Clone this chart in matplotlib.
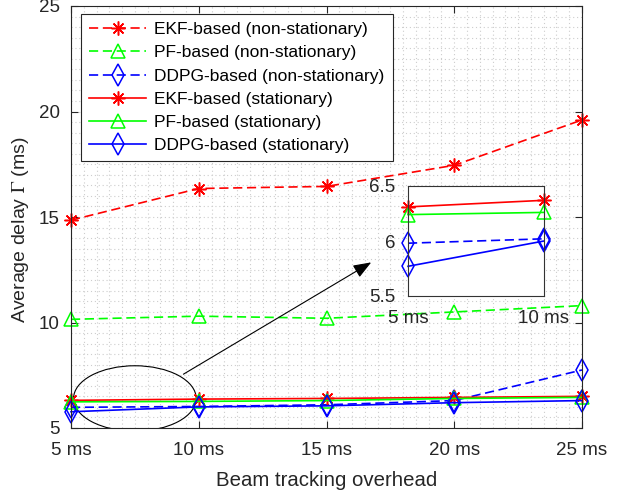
import numpy as np
import matplotlib
matplotlib.use("Agg")
import matplotlib.pyplot as plt
from matplotlib.patches import Ellipse
from matplotlib.ticker import MultipleLocator

plt.rcParams['font.family'] = ['Liberation Sans', 'DejaVu Sans']
plt.rcParams['mathtext.fontset'] = 'stix'

# data
overhead = [5, 10, 15, 20, 25]
xtick_labels = ["5 ms", "10 ms", "15 ms", "20 ms", "25 ms"]

ekf_ns = [14.85, 16.35, 16.45, 17.45, 19.6]
pf_ns = [10.15, 10.3, 10.2, 10.5, 10.8]
ddpg_ns = [5.98, 6.02, 6.1, 6.3, 7.75]
ekf_s = [6.31, 6.37, 6.4, 6.45, 6.5]
pf_s = [6.24, 6.26, 6.3, 6.4, 6.45]
ddpg_s = [5.77, 6.0, 6.05, 6.2, 6.3]

labels = ["EKF-based (non-stationary)", "PF-based (non-stationary)",
          "DDPG-based (non-stationary)", "EKF-based (stationary)",
          "PF-based (stationary)", "DDPG-based (stationary)"]

RED, GREEN, BLUE = (1, 0, 0), (0, 1, 0), (0, 0, 1)
TXT = '#262626'
FS = 13.5
LW = 1.2
DASH = (5.5, 2.8)
ASTER = (8, 2, 0)

series = [
    (ekf_ns, RED, ASTER, 10, True),
    (pf_ns, GREEN, '^', 10, True),
    (ddpg_ns, BLUE, 'd', 11, True),
    (ekf_s, RED, ASTER, 10, False),
    (pf_s, GREEN, '^', 10, False),
    (ddpg_s, BLUE, 'd', 11, False),
]


def draw(ax, xs, n=None):
    for (ys, c, m, ms, dashed), lab in zip(series, labels):
        ys = ys[:n] if n else ys
        ln, = ax.plot(xs, ys, color=c, marker=m, markersize=ms, lw=LW,
                      markerfacecolor='none', markeredgecolor=c,
                      markeredgewidth=1.1, label=lab, clip_on=False)
        if dashed:
            ln.set_dashes(DASH)


fig = plt.figure(figsize=(6.3, 4.93), dpi=100)
ax = fig.add_axes([71/630, 1 - 428/493, 511/630, 422/493])

draw(ax, overhead)

ax.set_xlim(5, 25)
ax.set_ylim(5, 25)
ax.set_xticks(overhead)
ax.set_xticklabels(xtick_labels)
ax.set_yticks([5, 10, 15, 20, 25])
ax.xaxis.set_minor_locator(MultipleLocator(0.5))
ax.yaxis.set_minor_locator(MultipleLocator(0.5))
ax.grid(True, which='both', linestyle=(0, (1, 2.5)), color='#cdcdcd', lw=0.8)
ax.set_axisbelow(True)
ax.tick_params(which='major', direction='in', length=5, width=0.8,
               top=True, right=True, labelsize=FS, colors=TXT)
ax.tick_params(axis='x', pad=10)
ax.tick_params(axis='y', pad=8)
ax.tick_params(which='minor', length=0)
for s in ax.spines.values():
    s.set_color(TXT)
    s.set_linewidth(0.8)

ax.set_xlabel("Beam tracking overhead", fontsize=14.7, color=TXT, labelpad=9)
ax.set_ylabel(r"Average delay $\Gamma$ (ms)", fontsize=14, color=TXT)
ax.yaxis.set_label_coords(-0.078, 0.47)

leg = ax.legend(loc='upper left', bbox_to_anchor=(81/630, 1 - 14/493),
                bbox_transform=fig.transFigure, borderaxespad=0,
                fontsize=12.5, handlelength=3.3, handletextpad=0.45,
                labelspacing=0.46, borderpad=0.47, fancybox=False,
                framealpha=1, edgecolor='#262626')
leg.get_frame().set_linewidth(0.8)

# zoom ellipse and arrow
ax.add_patch(Ellipse((7.5, 6.4), 4.8, 3.1, fill=False, edgecolor='black', lw=0.8))
ax.annotate("", xy=(16.75, 12.85), xytext=(9.4, 7.55),
            arrowprops=dict(arrowstyle='-|>,head_length=1.1,head_width=0.42',
                            color='black', lw=0.8, shrinkA=0, shrinkB=0))

# inset
ins = fig.add_axes([408/630, 1 - 296/493, 136/630, 110/493])
draw(ins, overhead[:2], n=2)
ins.set_xlim(5, 10)
ins.set_ylim(5.5, 6.5)
ins.set_xticks(overhead[:2])
ins.set_xticklabels(xtick_labels[:2])
ins.set_yticks([5.5, 6, 6.5])
ins.set_yticklabels(["5.5", "6", "6.5"])
ins.tick_params(direction='in', length=0, labelsize=FS, colors=TXT)
ins.tick_params(axis='x', pad=10)
ins.tick_params(axis='y', pad=9)
for s in ins.spines.values():
    s.set_color('#333333')
    s.set_linewidth(0.8)
ins.set_facecolor('white')

fig.savefig("out.png", dpi=100)
